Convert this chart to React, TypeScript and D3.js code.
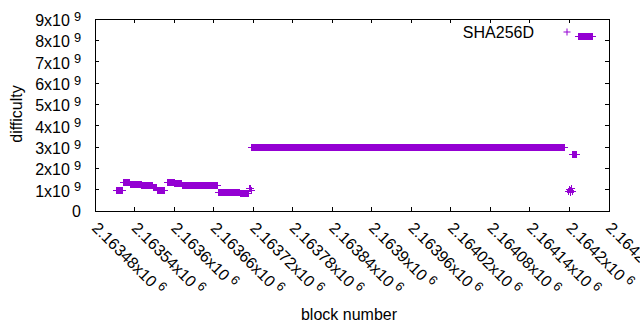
import React from 'react';
import * as d3 from 'd3';

// difficulty runs: [first block, last block], value in units of 1e9
const runStart = [
  2163512, 2163524, 2163534, 2163551, 2163569, 2163575, 2163590, 2163601, 2163613, 2163641,
  2163668, 2163701, 2163714, 2163717, 2163718,
  2164199, 2164200, 2164201, 2164202, 2164203, 2164204, 2164205, 2164214,
];
const runEnd = [
  2163521, 2163533, 2163550, 2163568, 2163574, 2163586, 2163600, 2163612, 2163640, 2163666,
  2163700, 2163713, 2163716, 2163717, 2164192,
  2164199, 2164200, 2164201, 2164202, 2164203, 2164204, 2164210, 2164235,
];
const runValue = [
  0.97, 1.33, 1.26, 1.21, 1.08, 0.98, 1.32, 1.27, 1.21, 1.18,
  0.88, 0.84, 1.05, 0.95, 3.0,
  0.9, 1.02, 0.88, 0.97, 1.05, 0.92, 2.67, 8.16,
];

const xTicks = [
  2163480, 2163540, 2163600, 2163660, 2163720, 2163780, 2163840,
  2163900, 2163960, 2164020, 2164080, 2164140, 2164200, 2164260,
];
const yTicks = [0, 1, 2, 3, 4, 5, 6, 7, 8, 9];

const seriesName = 'SHA256D';
const COLOR = '#9400d3';
const FONT = '"Liberation Sans", Arial, sans-serif';

const W = 640;
const H = 330;
const left = 95;
const right = 609;
const top = 19;
const bottom = 211;

const points: { block: number; value: number }[] = [];
runStart.forEach((s, i) => {
  for (let b = s; b <= runEnd[i]; b++) points.push({ block: b, value: runValue[i] * 1e9 });
});

const fmtX = (v: number) => Number((v / 1e6).toPrecision(6)).toString();

const Plus: React.FC<{ x: number; y: number }> = ({ x, y }) => (
  <path d={`M${x - 3.5},${y}H${x + 3.5}M${x},${y - 3.5}V${y + 3.5}`} />
);

const App: React.FC = () => {
  const x = d3.scaleLinear().domain([2163480, 2164260]).range([left, right]);
  const y = d3.scaleLinear().domain([0, 9e9]).range([bottom, top]);
  const tick = 4;

  return (
    <svg
      width={W}
      height={H}
      style={{ position: 'absolute', left: 0, top: 0, background: '#fff' }}
      fontFamily={FONT}
      fontSize={16}
    >
      <rect width={W} height={H} fill="#fff" />

      {/* tick marks, mirrored on all sides */}
      <g stroke="#000" strokeWidth={1} shapeRendering="crispEdges">
        {yTicks.map((t) => (
          <g key={'y' + t}>
            <line x1={left} x2={left + tick} y1={y(t * 1e9)} y2={y(t * 1e9)} />
            <line x1={right} x2={right - tick} y1={y(t * 1e9)} y2={y(t * 1e9)} />
          </g>
        ))}
        {xTicks.map((t) => (
          <g key={'x' + t}>
            <line x1={x(t)} x2={x(t)} y1={bottom} y2={bottom - tick} />
            <line x1={x(t)} x2={x(t)} y1={top} y2={top + tick} />
          </g>
        ))}
        <rect x={left} y={top} width={right - left} height={bottom - top} fill="none" />
      </g>

      {/* y labels */}
      <g fill="#000" textAnchor="end">
        {yTicks.map((t) =>
          t === 0 ? (
            <text key={t} x={81} y={y(0) + 5.5}>0</text>
          ) : (
            <text key={t} x={81} y={y(t * 1e9) + 7}>
              {`${t}x10`}
              <tspan dx={4} dy={-5.5} fontSize={12.8}>9</tspan>
            </text>
          )
        )}
      </g>

      {/* x labels rotated */}
      <g fill="#000">
        {xTicks.map((t) => (
          <text key={t} transform={`translate(${x(t)},225) rotate(45)`} y={5.5}>
            {`${fmtX(t)}x10`}
            <tspan dx={4} dy={-5.5} fontSize={12.8}>6</tspan>
          </text>
        ))}
      </g>

      <text x={349} y={320} textAnchor="middle">block number</text>
      <text transform="translate(21.5,114) rotate(-90)" textAnchor="middle">difficulty</text>

      {/* key */}
      <text x={534} y={37.5} textAnchor="end">{seriesName}</text>
      <g stroke={COLOR} strokeWidth={1} fill="none">
        <Plus x={567} y={32} />
      </g>

      {/* data */}
      <g stroke={COLOR} strokeWidth={1} fill="none" shapeRendering="crispEdges">
        {points.map((p, i) => (
          <Plus key={i} x={x(p.block)} y={y(p.value)} />
        ))}
      </g>
    </svg>
  );
};

export default App;
